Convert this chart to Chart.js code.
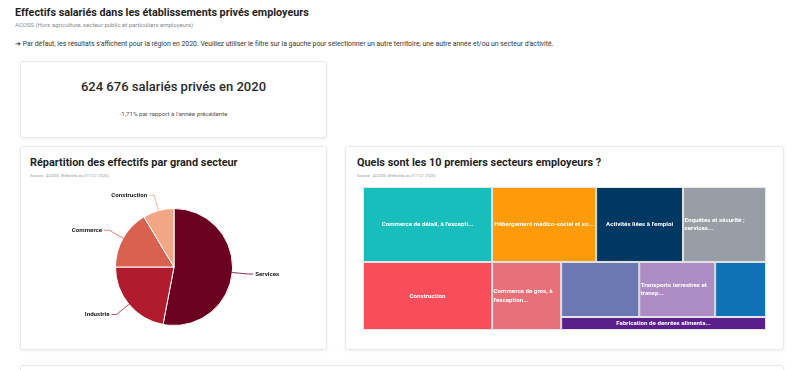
<!DOCTYPE html>
<html lang="fr">
<head>
<meta charset="utf-8">
<script src="https://cdn.jsdelivr.net/npm/chart.js@4.4.1/dist/chart.umd.min.js"></script>
<style>
  html, body { margin: 0; padding: 0; background: #fff; }
  body { width: 800px; height: 370px; overflow: hidden; position: relative; font-family: Roboto, "Open Sans", sans-serif; color: #222; }
  .abs { position: absolute; white-space: nowrap; }
  .card { position: absolute; background: #fff; border: 1px solid #e9e9e9; border-radius: 3px; box-shadow: 0 1px 3px rgba(0,0,0,0.07); box-sizing: border-box; }
  .h1 { font-size: 10.8px; font-weight: 700; color: #1f1f1f; }
  .sub { font-size: 6px; color: #8a8a8a; }
  .info { font-size: 6.85px; color: #333; }
  .big { font-size: 13px; font-weight: 500; color: #2a2a2a; }
  .small { font-size: 6.2px; color: #555; }
  .ctitle { font-size: 10.9px; font-weight: 700; color: #1f1f1f; }
  .src { font-size: 4.2px; color: #999; }
</style>
</head>
<body>
<div class="abs h1" style="left:15px; top:6px;">Effectifs salariés dans les établissements privés employeurs</div>
<div class="abs sub" style="left:15px; top:21px;">ACOSS (Hors agriculture, secteur public et particuliers employeurs)</div>
<div class="abs info" style="left:15px; top:40px;">➔ Par défaut, les résultats s'affichent pour la région en 2020. Veuillez utiliser le filtre sur la gauche pour sélectionner un autre territoire, une autre année et/ou un secteur d'activité.</div>

<div class="card" style="left:20px; top:61px; width:307px; height:77px;"></div>
<div class="abs big" style="left:20px; width:307px; text-align:center; top:79px;">624 676 salariés privés en 2020</div>
<div class="abs small" style="left:20px; width:307px; text-align:center; top:110px;">-1,71% par rapport à l'année précédente</div>

<div class="card" style="left:20px; top:146px; width:307px; height:204px;"></div>
<div class="abs ctitle" style="left:30px; top:156px;">Répartition des effectifs par grand secteur</div>
<div class="abs src" style="left:30px; top:173px;">Source : ACOSS (Effectifs au 31/12/ 2020)</div>

<div class="card" style="left:345px; top:146px; width:439px; height:204px;"></div>
<div class="abs ctitle" style="left:357px; top:156px;">Quels sont les 10 premiers secteurs employeurs ?</div>
<div class="abs src" style="left:357px; top:173px;">Source : ACOSS (Effectifs au 31/12/ 2020)</div>

<div class="card" style="left:20px; top:365px; width:764px; height:30px;"></div>

<div style="position:absolute; left:30px; top:187px; width:288px; height:160px;"><canvas id="pie"></canvas></div>
<div style="position:absolute; left:363px; top:187px; width:403px; height:143px;"><canvas id="treemap"></canvas></div>

<script>
// grands secteurs
const sectorLabels = ['Services', 'Industrie', 'Commerce', 'Construction'];
const sectorValues = [331100, 137400, 102500, 53676];
const sectorColors = ['#6b0021', '#b01b2e', '#d9614f', '#f1a685'];

// 10 premiers secteurs (effectifs)
const topLabels = [
  'Commerce de détail, à l\'excepti...',
  'Construction',
  'Hébergement médico-social et so...',
  'Activités liées à l\'emploi',
  'Enquêtes et sécurité ; services...',
  'Commerce de gros, à l\'exception...',
  '',
  'Transports terrestres et transp...',
  '',
  'Fabrication de denrées alimenta...'
];
const topValues = [48400, 43900, 39000, 32600, 31100, 23500, 21500, 20900, 14000, 13300];
const topColors = ['#17bebb', '#fa4d5b', '#fd9b0b', '#003864', '#979ea6', '#e8707a', '#6c78b2', '#ac8cc3', '#0f72b7', '#5b1f8b'];

const TM_W = 403, TM_H = 143;

// squarified layout (same logic as highcharts: compare ratio of last item before / after adding)
function squarify(values, W, H) {
  const total = values.reduce((a, b) => a + b, 0);
  const areas = values.map(v => v / total * W * H);
  const rects = [];
  let rx = 0, ry = 0, rw = W, rh = H, dir = 0;
  let row = [], rowIdx = [];
  const ratio = (a, b) => Math.max(a / b, b / a);

  function flush() {
    const sum = row.reduce((a, b) => a + b, 0);
    if (dir === 0) {
      const t = sum / rh;
      let yy = ry;
      row.forEach((a, k) => {
        rects[rowIdx[k]] = { x: rx, y: yy, w: t, h: a / t };
        yy += a / t;
      });
      rx += t; rw -= t;
    } else {
      const t = sum / rw;
      let xx = rx;
      row.forEach((a, k) => {
        rects[rowIdx[k]] = { x: xx, y: ry, w: a / t, h: t };
        xx += a / t;
      });
      ry += t; rh -= t;
    }
    row = []; rowIdx = [];
    dir = 1 - dir;
  }

  areas.forEach((a, i) => {
    if (row.length) {
      const L = dir === 0 ? rh : rw;
      const sum = row.reduce((p, q) => p + q, 0);
      const last = row[row.length - 1];
      const tOld = sum / L, tNew = (sum + a) / L;
      const rOld = ratio(tOld, last / tOld);
      const rNew = ratio(tNew, last / tNew);
      if (rNew > rOld) flush();
    }
    row.push(a); rowIdx.push(i);
  });
  if (row.length) flush();
  return rects;
}

const pieLabelPlugin = {
  id: 'pieLabels',
  afterDatasetsDraw(chart) {
    const ctx = chart.ctx;
    const meta = chart.getDatasetMeta(0);
    ctx.save();
    ctx.font = 'bold 6.2px Roboto';
    ctx.textBaseline = 'middle';
    meta.data.forEach((arc, i) => {
      const p = arc.getProps(['x', 'y', 'startAngle', 'endAngle', 'outerRadius'], true);
      const mid = (p.startAngle + p.endAngle) / 2;
      const c = Math.cos(mid), s = Math.sin(mid);
      const x1 = p.x + c * p.outerRadius, y1 = p.y + s * p.outerRadius;
      const x2 = p.x + c * (p.outerRadius + 16), y2 = p.y + s * (p.outerRadius + 16);
      const side = c >= 0 ? 1 : -1;
      const x3 = x2 + side * 5;
      ctx.strokeStyle = sectorColors[i];
      ctx.lineWidth = 0.8;
      ctx.beginPath();
      ctx.moveTo(x1, y1);
      ctx.lineTo(x2, y2);
      ctx.lineTo(x3, y2);
      ctx.stroke();
      ctx.fillStyle = '#222';
      ctx.textAlign = side > 0 ? 'left' : 'right';
      ctx.fillText(sectorLabels[i], x3 + side * 2, y2);
    });
    ctx.restore();
  }
};

new Chart(document.getElementById('pie').getContext('2d'), {
  type: 'pie',
  data: {
    labels: sectorLabels,
    datasets: [{
      data: sectorValues,
      backgroundColor: sectorColors,
      borderColor: '#ffffff',
      borderWidth: 1
    }]
  },
  options: {
    responsive: true,
    maintainAspectRatio: false,
    animation: false,
    layout: { padding: { top: 21, bottom: 21 } },
    plugins: { legend: { display: false }, tooltip: { enabled: false } }
  },
  plugins: [pieLabelPlugin]
});

const cells = squarify(topValues, TM_W, TM_H);

const treemapPlugin = {
  id: 'treemapCells',
  beforeDatasetsDraw(chart) {
    const ctx = chart.ctx;
    const xs = chart.scales.x, ys = chart.scales.y;
    ctx.save();
    cells.forEach((r, i) => {
      const x0 = xs.getPixelForValue(r.x), x1 = xs.getPixelForValue(r.x + r.w);
      const y0 = ys.getPixelForValue(r.y), y1 = ys.getPixelForValue(r.y + r.h);
      ctx.fillStyle = topColors[i];
      ctx.fillRect(x0, y0, x1 - x0, y1 - y0);
      ctx.strokeStyle = '#e6e6e6';
      ctx.lineWidth = 1;
      ctx.strokeRect(x0 + 0.5, y0 + 0.5, x1 - x0 - 1, y1 - y0 - 1);

      const label = topLabels[i];
      if (!label) return;
      ctx.font = 'bold 6.2px Roboto';
      ctx.fillStyle = '#ffffff';
      ctx.textBaseline = 'middle';
      const cw = x1 - x0;
      if (ctx.measureText(label).width <= cw - 3) {
        ctx.textAlign = 'center';
        ctx.fillText(label, (x0 + x1) / 2, (y0 + y1) / 2);
      } else {
        const words = label.split(' ');
        const lines = [];
        let cur = '';
        words.forEach(w => {
          const t = cur ? cur + ' ' + w : w;
          if (ctx.measureText(t).width > cw - 3 && cur) { lines.push(cur); cur = w; }
          else cur = t;
        });
        if (cur) lines.push(cur);
        const lh = 8.5;
        const top = (y0 + y1) / 2 - (lines.length - 1) * lh / 2;
        ctx.textAlign = 'left';
        lines.forEach((ln, k) => ctx.fillText(ln, x0 + 1.5, top + k * lh));
      }
    });
    ctx.restore();
  }
};

new Chart(document.getElementById('treemap').getContext('2d'), {
  type: 'scatter',
  data: {
    datasets: [{
      data: cells.map(r => ({ x: r.x + r.w / 2, y: r.y + r.h / 2 })),
      pointRadius: 0
    }]
  },
  options: {
    responsive: true,
    maintainAspectRatio: false,
    animation: false,
    layout: { padding: 0 },
    scales: {
      x: { type: 'linear', min: 0, max: TM_W, display: false },
      y: { type: 'linear', min: 0, max: TM_H, reverse: true, display: false }
    },
    plugins: { legend: { display: false }, tooltip: { enabled: false } }
  },
  plugins: [treemapPlugin]
});
</script>
</body>
</html>
